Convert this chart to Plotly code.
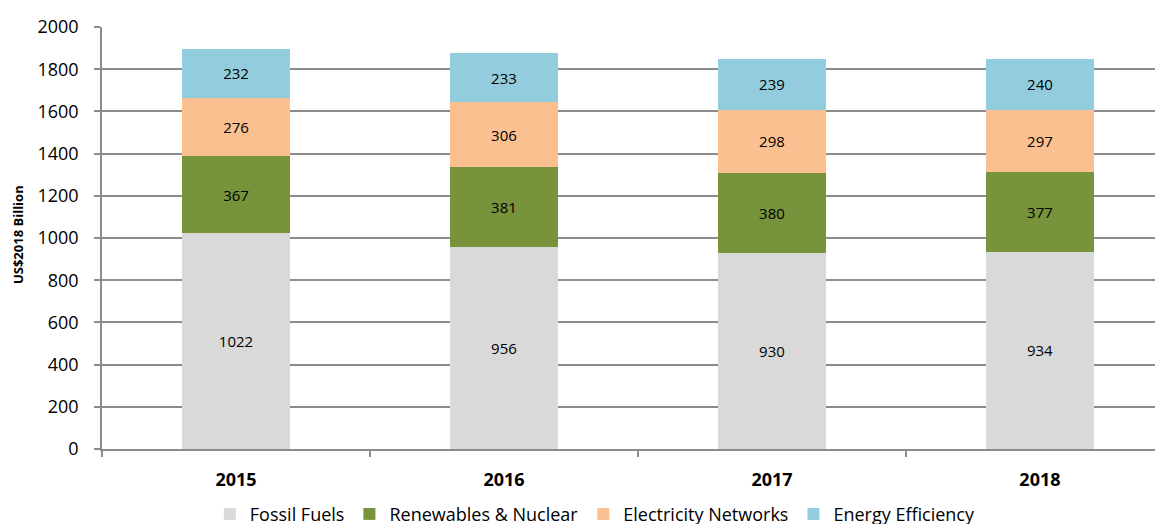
import plotly.graph_objects as go

# chart data
years = ['2015', '2016', '2017', '2018']
fossil = [1022, 956, 930, 934]
renewables = [367, 381, 380, 377]
networks = [276, 306, 298, 297]
efficiency = [232, 233, 239, 240]

series = [
    ('Fossil Fuels', fossil, '#d9d9d9'),
    ('Renewables & Nuclear', renewables, '#77933c'),
    ('Electricity Networks', networks, '#fac090'),
    ('Energy Efficiency', efficiency, '#93cddd'),
]

xpos = list(range(len(years)))
font = "'Open Sans', sans-serif"

fig = go.Figure()
for name, vals, col in series:
    fig.add_trace(go.Bar(x=xpos, y=vals, name=name, marker=dict(color=col, line=dict(width=0)),
                         width=0.4, text=[str(v) for v in vals], textposition='inside',
                         insidetextanchor='middle', textangle=0,
                         textfont=dict(size=15, color='black', family=font)))

# the page has an 8px body margin, so margins are shifted accordingly
fig.update_layout(
    barmode='stack',
    width=1163, height=524,
    margin=dict(l=94, r=0, t=19, b=83),
    plot_bgcolor='white', paper_bgcolor='white',
    font=dict(family=font, color='black'),
    xaxis=dict(range=[-0.5, 3.489], tickvals=xpos, ticktext=years, ticks='',
               tickfont=dict(size=18, family=font, weight='bold'), showgrid=False, zeroline=False,
               showline=True, linecolor='#8c8c8c', linewidth=1.5, automargin=False,
               ticklabelstandoff=14,
               minor=dict(tickvals=[-0.5, 0.5, 1.5, 2.5, 3.5], ticks='outside', ticklen=6,
                          tickcolor='#8c8c8c', tickwidth=1.5, showgrid=False)),
    yaxis=dict(range=[0, 2000], dtick=200, ticks='outside', ticklen=6, tickcolor='#8c8c8c',
               tickwidth=1.5, tickfont=dict(size=18), showgrid=True, gridcolor='#8c8c8c',
               gridwidth=1.5, zeroline=False, showline=True, linecolor='#8c8c8c', linewidth=1.5,
               automargin=False, ticklabelstandoff=12),
    legend=dict(orientation='h', x=0.505, xanchor='center', xref='container',
                y=0.034, yanchor='middle', yref='container',
                font=dict(size=18), traceorder='normal', itemwidth=30),
)

fig.add_annotation(text='<b>US$2018 Billion</b>', textangle=-90, showarrow=False,
                   xref='paper', yref='paper', x=0, y=0.507, xanchor='center', yanchor='middle',
                   xshift=-84, font=dict(size=13, family=font))

fig.write_html("out.html")
